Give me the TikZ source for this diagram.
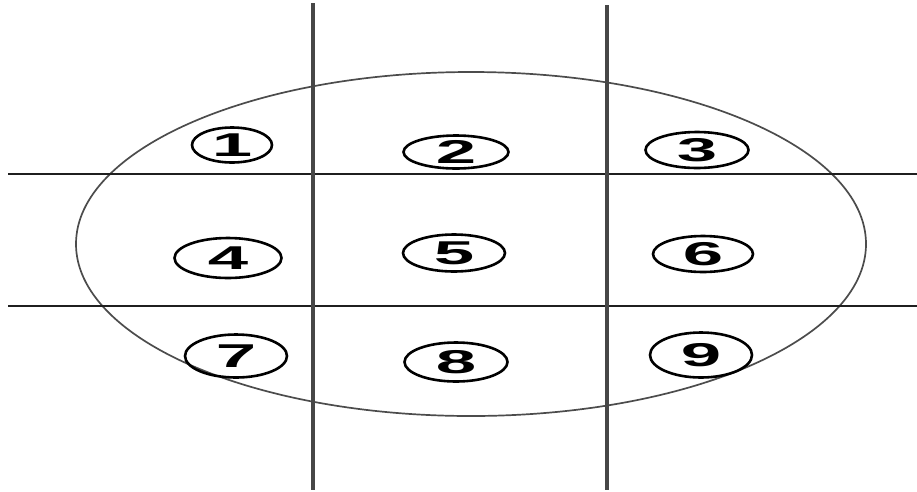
\documentclass[tikz,border=0pt]{standalone}
\usepackage{fontspec}
\setmainfont{Liberation Sans}
\usetikzlibrary{shapes.geometric}
\tikzset{
  vline/.style={draw=black!72, line width=4pt},
  hline/.style={draw=black!88, line width=1.8pt},
  bigoval/.style={draw=black!70, line width=1.7pt},
  lbl/.style={ellipse, draw=black, line width=2.6pt, inner sep=0pt,
    font=\fontsize{33}{33}\selectfont\bfseries}
}
\newcommand{\dg}[1]{\scalebox{2.2}[1]{#1}}
\begin{document}
\begin{tikzpicture}[x=1pt,y=-1pt]
\useasboundingbox (0,0) rectangle (917,491);
% big ellipse
\draw[bigoval] (471,244) ellipse [x radius=395, y radius=172];
% grid lines
\coordinate (v1t) at (313,3);   \coordinate (v1b) at (313,490);
\coordinate (v2t) at (607,5);   \coordinate (v2b) at (607,490);
\coordinate (h1l) at (8,174);   \coordinate (h1r) at (917,174);
\coordinate (h2l) at (8,306);   \coordinate (h2r) at (917,306);
\draw[hline] (h1l) -- (h1r);
\draw[hline] (h2l) -- (h2r);
\draw[vline] (v1t) -- (v1b);
\draw[vline] (v2t) -- (v2b);
% labels
\node[lbl, minimum width=80pt,  minimum height=35pt] (l1) at (232,145) {\dg{1}};
\node[lbl, minimum width=105pt, minimum height=33pt] (l2) at (456,152) {\dg{2}};
\node[lbl, minimum width=103pt, minimum height=36pt] (l3) at (697,150) {\dg{3}};
\node[lbl, minimum width=107pt, minimum height=40pt] (l4) at (228,258) {\dg{4}};
\node[lbl, minimum width=102pt, minimum height=37pt] (l5) at (454,253) {\dg{5}};
\node[lbl, minimum width=100pt, minimum height=36pt] (l6) at (703,254) {\dg{6}};
\node[lbl, minimum width=102pt, minimum height=43pt] (l7) at (236,356) {\dg{7}};
\node[lbl, minimum width=103pt, minimum height=39pt] (l8) at (456,362) {\dg{8}};
\node[lbl, minimum width=102pt, minimum height=45pt] (l9) at (701,355) {\dg{9}};
\end{tikzpicture}
\end{document}
